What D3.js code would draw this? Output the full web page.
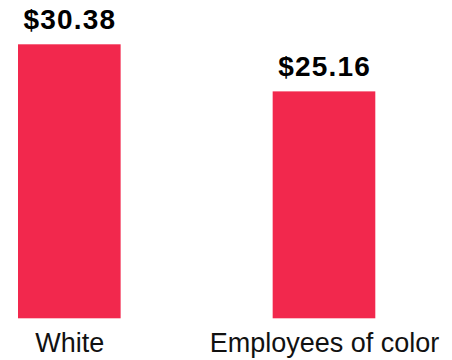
<!DOCTYPE html>
<html>
<head>
<meta charset="utf-8">
<script src="https://cdn.jsdelivr.net/npm/d3@7"></script>
<style>
  html, body { margin: 0; padding: 0; background: #fff; }
  svg { display: block; }
  .value { font-family: "Liberation Sans", Arial, Helvetica, sans-serif; font-weight: bold; font-size: 28px; letter-spacing: 1.2px; fill: #000; }
  .cat { font-family: "Liberation Sans", Arial, Helvetica, sans-serif; font-size: 27px; fill: #111; }
</style>
</head>
<body>
<svg id="chart" width="452" height="360"></svg>
<script>
// Average hourly wage by group
const categories = ["White", "Employees of color"];
const wages = [30.38, 25.16];
const valueLabels = ["$30.38", "$25.16"];

const svg = d3.select("#chart");
const barColor = "#f2284d";

const x = d3.scaleBand()
  .domain(categories)
  .range([18, 375.3])
  .paddingInner(0.597)
  .paddingOuter(0);

const y = d3.scaleLinear()
  .domain([0, d3.max(wages)])
  .range([318.3, 44.3]);

const data = categories.map((c, i) => ({ cat: c, value: wages[i], label: valueLabels[i] }));

svg.selectAll("rect.bar")
  .data(data)
  .join("rect")
  .attr("class", "bar")
  .attr("x", d => x(d.cat))
  .attr("width", x.bandwidth())
  .attr("y", d => y(d.value))
  .attr("height", d => y(0) - y(d.value))
  .attr("fill", barColor);

svg.selectAll("text.value")
  .data(data)
  .join("text")
  .attr("class", "value")
  .attr("x", d => x(d.cat) + x.bandwidth() / 2 + 0.6)
  .attr("y", d => y(d.value) - 15)
  .attr("text-anchor", "middle")
  .text(d => d.label);

svg.selectAll("text.cat")
  .data(data)
  .join("text")
  .attr("class", "cat")
  .attr("x", d => x(d.cat) + x.bandwidth() / 2 + 0.5)
  .attr("y", 351.7)
  .attr("text-anchor", "middle")
  .text(d => d.cat);
</script>
</body>
</html>
